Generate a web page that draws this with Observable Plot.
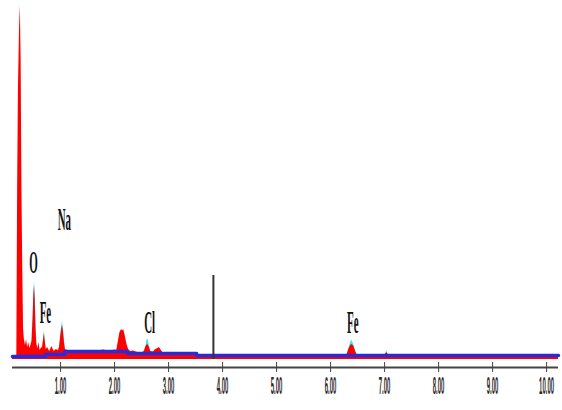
<!DOCTYPE html>
<html><head><meta charset="utf-8">
<script src="https://cdn.jsdelivr.net/npm/d3@7"></script>
<script src="https://cdn.jsdelivr.net/npm/@observablehq/plot@0.6"></script>
<style>html,body{margin:0;padding:0;background:#fff;} #chart{width:562px;height:410px;overflow:hidden}</style>
</head><body><div id="chart"></div>
<script>
// Measured spectrum (keV, counts)
const spectrumEnergy = [0.11, 0.19, 0.205, 0.22, 0.24, 0.255, 0.27, 0.285, 0.30, 0.315, 0.33, 0.35, 0.37, 0.39, 0.41, 0.43, 0.45, 0.47, 0.49, 0.505, 0.517, 0.53, 0.545, 0.56, 0.58, 0.60, 0.62, 0.64, 0.665, 0.685, 0.70, 0.715, 0.735, 0.76, 0.80, 0.84, 0.88, 0.92, 0.96, 0.98, 1.00, 1.02, 1.036, 1.05, 1.07, 1.09, 1.15, 1.3, 1.5, 1.7, 1.8, 1.9, 2.0, 2.04, 2.07, 2.10, 2.13, 2.15, 2.17, 2.20, 2.23, 2.26, 2.30, 2.35, 2.45, 2.52, 2.55, 2.58, 2.61, 2.64, 2.67, 2.72, 2.75, 2.80, 2.83, 2.86, 2.90, 3.0, 3.2, 3.4, 3.52, 3.6, 4.0, 5.0, 6.0, 6.30, 6.33, 6.37, 6.40, 6.43, 6.47, 6.50, 7.0, 7.04, 7.08, 8.0, 9.0, 10.22];
const spectrumCounts = [30, 40, 1700, 2700, 3300, 3540, 3000, 1700, 900, 300, 200, 140, 200, 120, 170, 110, 140, 180, 400, 650, 740, 600, 300, 150, 110, 170, 90, 110, 120, 200, 260, 190, 100, 120, 80, 130, 80, 100, 90, 120, 220, 300, 340, 290, 180, 100, 85, 75, 80, 85, 95, 80, 95, 90, 180, 270, 300, 285, 300, 230, 150, 100, 80, 85, 65, 70, 80, 130, 150, 130, 80, 75, 95, 110, 120, 95, 65, 65, 60, 55, 50, 40, 40, 40, 40, 40, 90, 140, 150, 130, 70, 40, 40, 70, 40, 40, 40, 40];

// Fitted peak profiles (cyan)
const fitPeak   = ["O","O","O","O","O","O", "FeL","FeL","FeL", "Na","Na","Na","Na","Na", "Cl","Cl","Cl","Cl", "FeK","FeK","FeK","FeK","FeK", "FeKb","FeKb","FeKb"];
const fitEnergy = [0.48, 0.50, 0.517, 0.535, 0.55, 0.57, 0.68, 0.70, 0.72, 0.99, 1.02, 1.036, 1.055, 1.08, 2.57, 2.60, 2.62, 2.66, 6.31, 6.36, 6.39, 6.43, 6.48, 7.01, 7.04, 7.07];
const fitCounts = [200, 550, 790, 600, 300, 100, 150, 290, 150, 150, 330, 380, 300, 120, 80, 200, 200, 100, 50, 150, 195, 150, 50, 40, 90, 40];

// Background (blue step line)
const backgroundEnergy = [0.11, 0.72, 1.08, 2.24, 3.52, 10.22];
const backgroundCounts = [30, 50, 80, 60, 40, 40];

// Marker line
const markerEnergy = [3.83];
const markerCounts = [840];

// Peak labels
const labelText   = ["Na", "O", "Fe", "Cl", "Fe"];
const labelEnergy = [1.07, 0.50, 0.72, 2.65, 6.41];
const labelCounts = [1300, 870, 370, 270, 270];

// Axis ticks
const tickValues = [1, 2, 3, 4, 5, 6, 7, 8, 9, 10];

const spectrum = spectrumEnergy.map((e, i) => ({e, c: spectrumCounts[i]}));
const fit = fitEnergy.map((e, i) => ({e, c: fitCounts[i], peak: fitPeak[i]}));
const background = backgroundEnergy.map((e, i) => ({e, c: backgroundCounts[i]}));
const marker = markerEnergy.map((e, i) => ({e, c: markerCounts[i]}));
const labels = labelText.map((t, i) => ({t, e: labelEnergy[i], c: labelCounts[i]}));

const chart = Plot.plot({
  width: 562, height: 410,
  marginTop: 5, marginLeft: 12, marginRight: 4, marginBottom: 43,
  x: {domain: [0.11, 10.22], label: null},
  y: {domain: [0, 3540], range: [359, 5], axis: null, label: null},
  style: {background: "#fff"},
  marks: [
    Plot.areaY(fit, {x: "e", y: "c", z: "peak", fill: "#3ee6f2"}),
    Plot.areaY(spectrum, {x: "e", y: "c", fill: "#ff0000"}),
    Plot.line(background, {x: "e", y: "c", curve: "step-after", stroke: "#2a2ad8", strokeWidth: 3.5}),
    Plot.ruleX(marker, {x: "e", y1: 0, y2: "c", stroke: "#333", strokeWidth: 2}),
    Plot.ruleY([0], {x1: 0.11, x2: 10.22, dy: 8, stroke: "#444", strokeWidth: 2}),
    Plot.axisX({ticks: tickValues, tickSize: 10, dy: -5, tickFormat: () => "", stroke: "#444", label: null}),
    Plot.axisX({ticks: tickValues, tickSize: 0, tickPadding: 9, tickFormat: d3.format(".2f"), fontSize: 24, fontFamily: "Liberation Sans", fontWeight: "bold", fill: "#2a2a2a", label: null}),
    Plot.text(labels, {x: "e", y: "c", text: "t", lineAnchor: "bottom", fontFamily: "Liberation Serif", fontWeight: "bold", fontSize: 32, fill: "#111"})
  ]
});
document.getElementById("chart").append(chart);

const labelSet = new Set(labelText);
chart.querySelectorAll("text").forEach(t => {
  const s = t.textContent.trim();
  let k = 0;
  if (/^\d+\.00$/.test(s)) {
    t.style.fontSize = "24px";
    t.style.fontFamily = "'Liberation Sans', sans-serif";
    t.style.fontWeight = "bold";
    k = 0.25;
  } else if (labelSet.has(s)) {
    t.style.fontSize = "32px";
    t.style.fontFamily = "'Liberation Serif', serif";
    t.style.fontWeight = "bold";
    k = 0.34;
  }
  if (k) {
    const w = t.getComputedTextLength();
    if (w > 0) {
      t.setAttribute("textLength", (w * k).toFixed(1));
      t.setAttribute("lengthAdjust", "spacingAndGlyphs");
    }
  }
});
</script>
</body></html>
